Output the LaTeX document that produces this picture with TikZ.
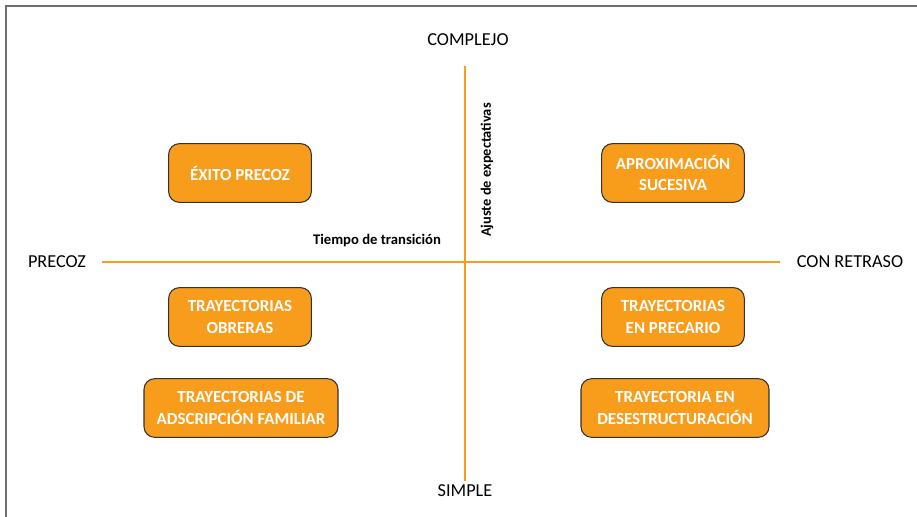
\documentclass[tikz,border=0pt]{standalone}
\usepackage{fontspec}
\setmainfont{Carlito}
\usetikzlibrary{positioning}

\definecolor{naranja}{HTML}{F89C1C}
\definecolor{marco}{HTML}{6E6E6E}

\tikzset{
  caja/.style={draw=black!80, line width=0.8pt, fill=naranja, rounded corners=8pt,
    text=white, align=center, minimum height=44pt,
    font=\fontsize{12.7}{16}\selectfont\bfseries},
  eje/.style={draw=naranja, line width=2pt},
  extremo/.style={font=\fontsize{13.7}{16}\selectfont},
}

\begin{document}
\begin{tikzpicture}[x=0.75pt,y=-0.75pt]
	\useasboundingbox (0,0) rectangle (917,517);
	\draw[marco, line width=1.5pt] (6,517) -- (6,6) -- (917,6);

	% ejes
	\coordinate (arriba) at (465,66);
	\coordinate (abajo) at (465,481);
	\coordinate (izq) at (102,262);
	\coordinate (der) at (780,262);
	\draw[eje] (izq) -- (der);
	\draw[eje] (arriba) -- (abajo);

	\node[extremo] (complejo) at (468,40) {COMPLEJO};
	\node[extremo] (simple) at (465,491) {SIMPLE};
	\node[extremo] (precoz) at (57,262) {PRECOZ};
	\node[extremo] (retraso) at (850,262) {CON RETRASO};

	\node[font=\fontsize{11}{13}\selectfont\bfseries] (tiempo) at (377,241) {Tiempo de transición};
	\node[font=\fontsize{10.8}{13}\selectfont\bfseries, rotate=90] (ajuste) at (487,170) {Ajuste de expectativas};

	% cuadrantes
	\node[caja, minimum width=107pt] (exito) at (240,173) {ÉXITO PRECOZ};
	\node[caja, minimum width=107pt] (aprox) at (673,173) {APROXIMACIÓN\\SUCESIVA};
	\node[caja, minimum width=107pt] (obreras) at (240,317) {TRAYECTORIAS\\OBRERAS};
	\node[caja, minimum width=107pt] (precario) at (673,317) {TRAYECTORIAS\\EN PRECARIO};
	\node[caja, minimum width=145.5pt] (familiar) at (241,408) {TRAYECTORIAS DE\\ADSCRIPCIÓN FAMILIAR};
	\node[caja, minimum width=141pt] (desestr) at (675,408) {TRAYECTORIA EN\\DESESTRUCTURACIÓN};
\end{tikzpicture}
\end{document}
